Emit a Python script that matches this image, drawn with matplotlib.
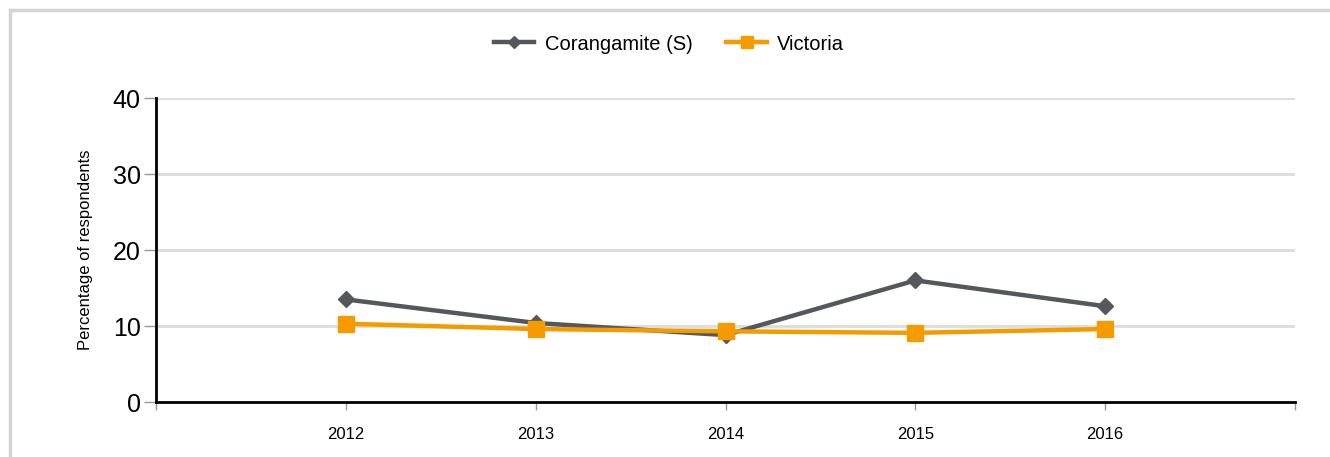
import matplotlib.pyplot as plt
from matplotlib.patches import Rectangle

plt.rcParams['font.family'] = ['Liberation Sans', 'DejaVu Sans']

years = [2012, 2013, 2014, 2015, 2016]
corangamite = [13.5, 10.4, 8.8, 16.0, 12.6]
victoria = [10.3, 9.6, 9.3, 9.1, 9.6]

grey = '#54585d'
orange = '#f49b00'

fig = plt.figure(figsize=(13.3, 4.57), dpi=100)
fig.patches.append(Rectangle((10 / 1330, -0.1), 1.2, (457 - 10) / 457 + 0.1,
                             transform=fig.transFigure, fill=False,
                             edgecolor='#d4d4d4', linewidth=2.5))
ax = fig.add_axes([156 / 1330, 55 / 457, (1295 - 156) / 1330, (402 - 98) / 457])

ax.plot(years, corangamite, color=grey, linewidth=3.2, marker='D',
        markersize=8, label='Corangamite (S)', zorder=3)
ax.plot(years, victoria, color=orange, linewidth=3.2, marker='s',
        markersize=11, label='Victoria', zorder=4)

ax.set_xlim(2011, 2017)
ax.set_ylim(0, 40)
ax.set_xticks([2011, 2012, 2013, 2014, 2015, 2016, 2017])
ax.set_xticklabels(['', '2012', '2013', '2014', '2015', '2016', ''], fontsize=12)
ax.set_yticks([0, 10, 20, 30, 40])
ax.set_yticklabels(['0', '10', '20', '30', '40'], fontsize=18)
ax.tick_params(axis='y', length=9, width=1, color='#999999', pad=2)
ax.tick_params(axis='x', length=6, width=1, color='#999999', pad=12)

for y in [10, 20, 30, 40]:
    ax.axhline(y, color='#dcdcdc', linewidth=2, zorder=1)

for side in ['top', 'right']:
    ax.spines[side].set_visible(False)
ax.spines['left'].set_linewidth(2)
ax.spines['bottom'].set_linewidth(2)

ax.set_ylabel('Percentage of respondents', fontsize=12, labelpad=14)

leg = fig.legend(loc='center', bbox_to_anchor=(669 / 1330, 1 - 44 / 457), ncol=2,
                 frameon=False, fontsize=14.5, handlelength=2.0, columnspacing=1.7,
                 markerscale=0.8, handletextpad=0.5)

fig.savefig('out.png', dpi=100)
